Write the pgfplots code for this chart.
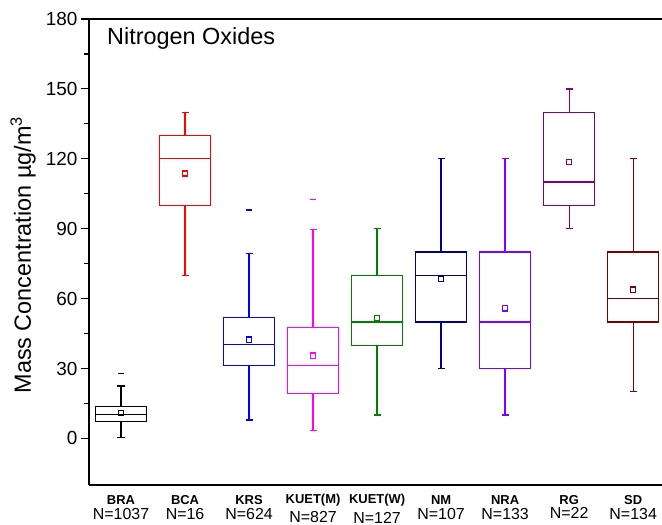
\documentclass[border=0pt]{standalone}
\usepackage{pgfplots}
\pgfplotsset{compat=1.18}
\usepgfplotslibrary{statistics}
\usepackage{fontspec}
\setmainfont{Liberation Sans}

\definecolor{cBRA}{HTML}{000000}
\definecolor{cBCA}{HTML}{FF0000}
\definecolor{cKRS}{HTML}{0000FF}
\definecolor{cKUETM}{HTML}{FF00FF}
\definecolor{cKUETW}{HTML}{008000}
\definecolor{cNM}{HTML}{000080}
\definecolor{cNRA}{HTML}{8000FF}
\definecolor{cRG}{HTML}{800080}
\definecolor{cSD}{HTML}{800000}

\begin{document}
\begin{tikzpicture}
\begin{axis}[
  name=ax,
  scale only axis,
  width=573bp, height=466bp,
  xmin=0.5, xmax=9.45,
  ymin=-20, ymax=180,
  axis x line*=box, axis y line*=left,
  axis line style={line width=2bp, black},
  xtick=\empty,
  ytick={0,30,...,180},
  minor y tick num=1,
  tick align=outside,
  major tick length=8bp, minor tick length=5bp,
  every tick/.style={black, line width=1.2bp},
  /pgf/number format/assume math mode=true,
  yticklabel style={font=\fontsize{19}{21}\selectfont},
  ylabel={Mass Concentration µg/m\textsuperscript{3}},
  every axis y label/.style={at={(axis description cs:0,0.5)}, xshift=-66bp, yshift=-3bp, rotate=90, anchor=center, font=\fontsize{23.5}{25}\selectfont},
  clip=false,
  boxplot/draw direction=y,
  boxplot/box extend=0.8,
  boxplot/whisker extend=0.11,
  boxplot/every average/.style={/tikz/mark=square, /tikz/mark size=2.6bp, /tikz/mark options={solid, line width=1.1bp}},
  every axis plot/.append style={line width=1.3bp},
]

\addplot[cBRA, mark=-, mark size=3bp, boxplot prepared={draw position=1,
  lower whisker=0.5, lower quartile=7.4, median=10.4, upper quartile=13.6, upper whisker=22.5, average=10.9}]
  table[row sep=\\, y index=0] {27.8\\};
\addplot[cBCA, mark=-, mark size=3bp, boxplot prepared={draw position=2,
  lower whisker=70, lower quartile=100, median=120, upper quartile=130, upper whisker=140, average=113.7}]
  coordinates {};
\addplot[cKRS, mark=-, mark size=3bp, boxplot prepared={draw position=3,
  lower whisker=7.9, lower quartile=31.3, median=40.2, upper quartile=51.8, upper whisker=79.5, average=42.4}]
  table[row sep=\\, y index=0] {98\\};
\addplot[cKUETM, mark=-, mark size=3bp, boxplot prepared={draw position=4,
  lower whisker=3.4, lower quartile=19.2, median=31.3, upper quartile=47.7, upper whisker=89.8, average=35.5}]
  table[row sep=\\, y index=0] {102.5\\};
\addplot[cKUETW, mark=-, mark size=3bp, boxplot prepared={draw position=5,
  lower whisker=10, lower quartile=40, median=50, upper quartile=70, upper whisker=90, average=51.7}]
  coordinates {};
\addplot[cNM, mark=-, mark size=3bp, boxplot prepared={draw position=6,
  lower whisker=30, lower quartile=50, median=70, upper quartile=80, upper whisker=120, average=68.6}]
  coordinates {};
\addplot[cNRA, mark=-, mark size=3bp, boxplot prepared={draw position=7,
  lower whisker=10, lower quartile=30, median=50, upper quartile=80, upper whisker=120, average=55.8}]
  coordinates {};
\addplot[cRG, mark=-, mark size=3bp, boxplot prepared={draw position=8,
  lower whisker=90, lower quartile=100, median=110, upper quartile=140, upper whisker=150, average=118.6}]
  coordinates {};
\addplot[cSD, mark=-, mark size=3bp, boxplot prepared={draw position=9,
  lower whisker=20, lower quartile=50, median=60, upper quartile=80, upper whisker=120, average=63.8}]
  coordinates {};

\node[anchor=north west, font=\fontsize{23.5}{26}\selectfont, inner sep=0pt] at (rel axis cs:0,1) [xshift=18bp, yshift=-8bp] {Nitrogen Oxides};

% category names and sample sizes
\node[font=\bfseries\fontsize{13}{14}\selectfont, inner sep=0pt, yshift=-15bp] at (axis cs:1,-20) {BRA};
\node[font=\bfseries\fontsize{13}{14}\selectfont, inner sep=0pt, yshift=-15bp] at (axis cs:2,-20) {BCA};
\node[font=\bfseries\fontsize{13}{14}\selectfont, inner sep=0pt, yshift=-15bp] at (axis cs:3,-20) {KRS};
\node[font=\bfseries\fontsize{13}{14}\selectfont, inner sep=0pt, yshift=-15bp] at (axis cs:4,-20) {KUET(M)};
\node[font=\bfseries\fontsize{13}{14}\selectfont, inner sep=0pt, yshift=-15bp] at (axis cs:5,-20) {KUET(W)};
\node[font=\bfseries\fontsize{13}{14}\selectfont, inner sep=0pt, yshift=-15bp] at (axis cs:6,-20) {NM};
\node[font=\bfseries\fontsize{13}{14}\selectfont, inner sep=0pt, yshift=-15bp] at (axis cs:7,-20) {NRA};
\node[font=\bfseries\fontsize{13}{14}\selectfont, inner sep=0pt, yshift=-15bp] at (axis cs:8,-20) {RG};
\node[font=\bfseries\fontsize{13}{14}\selectfont, inner sep=0pt, yshift=-15bp] at (axis cs:9,-20) {SD};
\node[font=\fontsize{16}{17}\selectfont, inner sep=0pt, yshift=-29.5bp] at (axis cs:1,-20) {N=1037};
\node[font=\fontsize{16}{17}\selectfont, inner sep=0pt, yshift=-29.5bp] at (axis cs:2,-20) {N=16};
\node[font=\fontsize{16}{17}\selectfont, inner sep=0pt, yshift=-29.5bp] at (axis cs:3,-20) {N=624};
\node[font=\fontsize{16}{17}\selectfont, inner sep=0pt, yshift=-32.5bp] at (axis cs:4,-20) {N=827};
\node[font=\fontsize{16}{17}\selectfont, inner sep=0pt, yshift=-32.5bp] at (axis cs:5,-20) {N=127};
\node[font=\fontsize{16}{17}\selectfont, inner sep=0pt, yshift=-29.5bp] at (axis cs:6,-20) {N=107};
\node[font=\fontsize{16}{17}\selectfont, inner sep=0pt, yshift=-29.5bp] at (axis cs:7,-20) {N=133};
\node[font=\fontsize{16}{17}\selectfont, inner sep=0pt, yshift=-28bp] at (axis cs:8,-20) {N=22};
\node[font=\fontsize{16}{17}\selectfont, inner sep=0pt, yshift=-29.5bp] at (axis cs:9,-20) {N=134};

\coordinate (ll) at (rel axis cs:0,0);
\coordinate (ur) at (rel axis cs:1,1);
\end{axis}
\pgfresetboundingbox
\path ([xshift=-89bp,yshift=-40bp]ll) rectangle ([yshift=19bp]ur);
\end{tikzpicture}
\end{document}
